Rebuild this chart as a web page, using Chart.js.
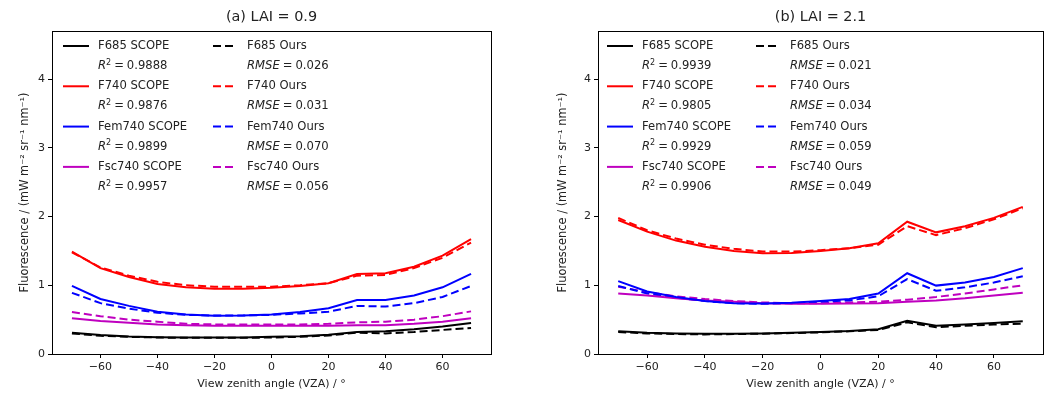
<!DOCTYPE html>
<html>
<head>
<meta charset="utf-8">
<script src="https://cdn.jsdelivr.net/npm/chart.js@4.4.0/dist/chart.umd.min.js"></script>
<style>
  html, body { margin: 0; padding: 0; background: #fff; }
  .panel { position: absolute; top: 0; width: 528px; height: 396px; }
</style>
</head>
<body>
<div class="panel" style="left:0"><canvas id="lai09" width="528" height="396"></canvas></div>
<div class="panel" style="left:528px"><canvas id="lai21" width="528" height="396"></canvas></div>
<script>
// view zenith angles (degrees)
const vza = [-70, -60, -50, -40, -30, -20, -10, 0, 10, 20, 30, 40, 50, 60, 70];

const seriesNames = ['F685', 'F740', 'Fem740', 'Fsc740'];
const seriesColors = ['#000000', '#ff0000', '#0000ff', '#bf00bf'];

// LAI = 0.9
const f685ScopeA   = [0.31, 0.275, 0.255, 0.245, 0.24, 0.24, 0.24, 0.25, 0.26, 0.28, 0.32, 0.33, 0.36, 0.40, 0.45];
const f740ScopeA   = [1.49, 1.25, 1.12, 1.02, 0.97, 0.95, 0.95, 0.965, 0.99, 1.03, 1.165, 1.175, 1.27, 1.43, 1.67];
const fem740ScopeA = [0.99, 0.80, 0.70, 0.615, 0.575, 0.557, 0.56, 0.575, 0.61, 0.665, 0.786, 0.785, 0.85, 0.97, 1.165];
const fsc740ScopeA = [0.52, 0.48, 0.455, 0.43, 0.42, 0.41, 0.41, 0.41, 0.41, 0.41, 0.42, 0.42, 0.44, 0.47, 0.52];
const f685OursA    = [0.30, 0.265, 0.25, 0.24, 0.235, 0.235, 0.235, 0.24, 0.25, 0.27, 0.31, 0.30, 0.32, 0.35, 0.38];
const f740OursA    = [1.48, 1.26, 1.14, 1.05, 1.00, 0.98, 0.98, 0.98, 1.00, 1.03, 1.14, 1.15, 1.25, 1.40, 1.62];
const fem740OursA  = [0.89, 0.74, 0.66, 0.60, 0.57, 0.56, 0.56, 0.57, 0.59, 0.615, 0.70, 0.69, 0.74, 0.83, 0.99];
const fsc740OursA  = [0.61, 0.55, 0.50, 0.47, 0.44, 0.43, 0.43, 0.43, 0.43, 0.44, 0.46, 0.47, 0.50, 0.55, 0.62];
const r2A   = ['0.9888', '0.9876', '0.9899', '0.9957'];
const rmseA = ['0.026', '0.031', '0.070', '0.056'];

// LAI = 2.1
const f685ScopeB   = [0.33, 0.31, 0.30, 0.295, 0.295, 0.30, 0.31, 0.32, 0.335, 0.36, 0.485, 0.41, 0.43, 0.45, 0.475];
const f740ScopeB   = [1.95, 1.78, 1.65, 1.56, 1.50, 1.465, 1.47, 1.50, 1.54, 1.61, 1.925, 1.77, 1.86, 1.98, 2.14];
const fem740ScopeB = [1.06, 0.91, 0.83, 0.77, 0.74, 0.735, 0.745, 0.77, 0.80, 0.88, 1.175, 0.995, 1.04, 1.12, 1.25];
const fsc740ScopeB = [0.88, 0.85, 0.81, 0.78, 0.76, 0.74, 0.73, 0.73, 0.735, 0.74, 0.76, 0.78, 0.81, 0.85, 0.89];
const f685OursB    = [0.32, 0.30, 0.29, 0.285, 0.29, 0.295, 0.305, 0.315, 0.33, 0.35, 0.46, 0.39, 0.41, 0.43, 0.44];
const f740OursB    = [1.98, 1.80, 1.68, 1.59, 1.53, 1.49, 1.49, 1.51, 1.54, 1.59, 1.86, 1.73, 1.83, 1.96, 2.12];
const fem740OursB  = [0.99, 0.88, 0.82, 0.77, 0.74, 0.73, 0.74, 0.76, 0.78, 0.84, 1.09, 0.92, 0.97, 1.04, 1.13];
const fsc740OursB  = [0.98, 0.90, 0.84, 0.80, 0.77, 0.75, 0.74, 0.74, 0.75, 0.76, 0.79, 0.83, 0.88, 0.94, 1.00];
const r2B   = ['0.9939', '0.9805', '0.9929', '0.9906'];
const rmseB = ['0.021', '0.034', '0.059', '0.049'];

const yTicks = [0, 1, 2, 3, 4];
const xTicks = [-60, -40, -20, 0, 20, 40, 60];

const FONT = 'DejaVu Sans';
const TEXT = '#222';

// box around the axes like matplotlib spines
const framePlugin = {
  id: 'frame',
  afterDatasetsDraw(chart) {
    const a = chart.chartArea, ctx = chart.ctx;
    ctx.save();
    ctx.strokeStyle = '#000';
    ctx.lineWidth = 1;
    ctx.strokeRect(Math.round(a.left) + 0.5, Math.round(a.top) + 0.5,
      Math.round(a.right - a.left), Math.round(a.bottom - a.top));
    ctx.restore();
  }
};

// two-column legend: SCOPE curves with R^2, our curves with RMSE
const statLegend = {
  id: 'statLegend',
  afterDraw(chart, args, opts) {
    const ctx = chart.ctx, a = chart.chartArea;
    const sets = chart.data.datasets;
    const rowH = 20.15, top = a.top + 15;
    const cols = [
      { hx: a.left + opts.h1, tx: a.left + opts.t1, items: sets.slice(0, 4) },
      { hx: a.left + opts.h2, tx: a.left + opts.t2, items: sets.slice(4, 8) }
    ];
    ctx.save();
    ctx.textBaseline = 'middle';
    cols.forEach(col => {
      col.items.forEach((ds, i) => {
        const y = top + i * 2 * rowH;
        ctx.strokeStyle = ds.borderColor;
        ctx.lineWidth = 2;
        ctx.setLineDash(ds.borderDash || []);
        ctx.beginPath();
        ctx.moveTo(col.hx, y);
        ctx.lineTo(col.hx + (ds.borderDash ? 23 : 26), y);
        ctx.stroke();
        ctx.setLineDash([]);
        ctx.fillStyle = TEXT;
        ctx.font = '11.6px "' + FONT + '"';
        ctx.textAlign = 'left';
        ctx.fillText(ds.label, col.tx, y);
        // stat line, e.g. R^2 = 0.9888
        const y2 = y + rowH;
        let x = col.tx;
        ctx.font = 'italic 11.6px "' + FONT + '"';
        ctx.fillText(ds.statName, x, y2);
        x += ctx.measureText(ds.statName).width;
        if (ds.statSup) {
          ctx.font = '8px "' + FONT + '"';
          ctx.fillText(ds.statSup, x, y2 - 3.5);
          x += ctx.measureText(ds.statSup).width;
        }
        ctx.font = '11.6px "' + FONT + '"';
        x += 3;
        ctx.fillText('=', x, y2);
        x += ctx.measureText('=').width + 3;
        ctx.fillText(ds.statValue, x, y2);
      });
    });
    ctx.restore();
  }
};

function makePanel(id, title, scope, ours, r2, rmse, geo) {
  const datasets = [];
  scope.forEach((vals, i) => datasets.push({
    label: seriesNames[i] + ' SCOPE',
    data: vals.map((v, k) => ({ x: vza[k], y: v })),
    borderColor: seriesColors[i],
    borderWidth: 2,
    pointRadius: 0,
    tension: 0,
    statName: 'R', statSup: '2', statValue: r2[i]
  }));
  ours.forEach((vals, i) => datasets.push({
    label: seriesNames[i] + ' Ours',
    data: vals.map((v, k) => ({ x: vza[k], y: v })),
    borderColor: seriesColors[i],
    borderWidth: 2,
    borderDash: [8, 4],
    pointRadius: 0,
    tension: 0,
    statName: 'RMSE', statSup: '', statValue: rmse[i]
  }));

  new Chart(document.getElementById(id), {
    type: 'line',
    data: { datasets },
    plugins: [framePlugin, statLegend],
    options: {
      responsive: false,
      animation: false,
      devicePixelRatio: 1,
      layout: { padding: { left: 0, right: geo.right, top: 0, bottom: 0 } },
      plugins: {
        legend: { display: false },
        tooltip: { enabled: false },
        title: {
          display: true,
          text: title,
          fullSize: false,
          color: TEXT,
          font: { family: FONT, size: 14.4, weight: 'normal' },
          padding: { top: 9, bottom: 4.7 }
        },
        statLegend: geo.legend
      },
      scales: {
        x: {
          type: 'linear',
          min: -77, max: 77,
          afterBuildTicks: s => { s.ticks = xTicks.map(v => ({ value: v })); },
          afterFit: s => { s.height = 42; },
          border: { display: false },
          grid: { display: true, drawOnChartArea: false, drawTicks: true, tickLength: 4, tickColor: '#000' },
          ticks: {
            color: TEXT, padding: 3, maxRotation: 0,
            font: { family: FONT, size: 11 },
            callback: v => String(v).replace('-', '\u2212')
          },
          title: {
            display: true,
            text: 'View zenith angle (VZA) / \u00B0',
            color: TEXT,
            font: { family: FONT, size: 11 },
            padding: { top: 0, bottom: 5 }
          }
        },
        y: {
          type: 'linear',
          min: 0, max: 4.7,
          afterBuildTicks: s => { s.ticks = yTicks.map(v => ({ value: v })); },
          afterFit: s => { s.width = geo.yWidth; },
          border: { display: false },
          grid: { display: true, drawOnChartArea: false, drawTicks: true, tickLength: 4, tickColor: '#000' },
          ticks: { color: TEXT, padding: 3, font: { family: FONT, size: 11 } },
          title: {
            display: true,
            text: 'Fluorescence / (mW m\u207B\u00B2 sr\u207B\u00B9 nm\u207B\u00B9)',
            color: TEXT,
            font: { family: FONT, size: 11.4 },
            padding: { top: geo.yTitle, bottom: 0 }
          }
        }
      }
    }
  });
}

makePanel('lai09', '(a) LAI = 0.9',
  [f685ScopeA, f740ScopeA, fem740ScopeA, fsc740ScopeA],
  [f685OursA, f740OursA, fem740OursA, fsc740OursA],
  r2A, rmseA,
  { right: 37, yWidth: 52, yTitle: 18.2, legend: { h1: 11, t1: 46, h2: 161, t2: 195 } });

makePanel('lai21', '(b) LAI = 2.1',
  [f685ScopeB, f740ScopeB, fem740ScopeB, fsc740ScopeB],
  [f685OursB, f740OursB, fem740OursB, fsc740OursB],
  r2B, rmseB,
  { right: 13, yWidth: 70, yTitle: 28.2, legend: { h1: 9, t1: 44, h2: 158, t2: 192 } });
</script>
</body>
</html>
